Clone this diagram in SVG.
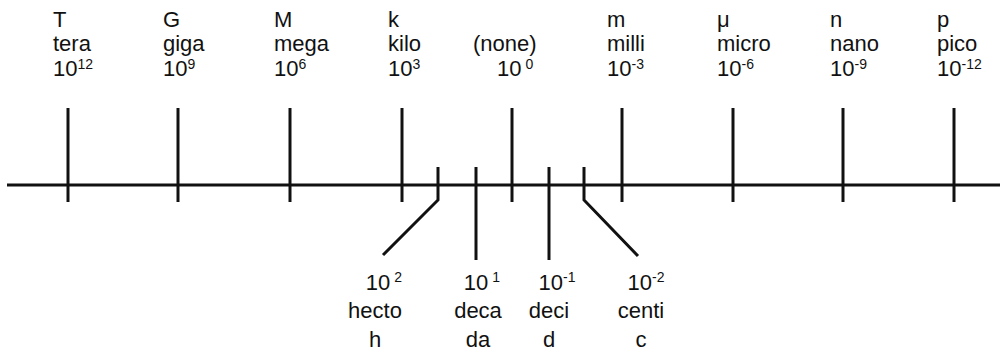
<svg xmlns="http://www.w3.org/2000/svg" width="1000" height="358" viewBox="0 0 1000 358">
<style>
text{font-family:"Liberation Sans",Arial,sans-serif;font-size:22px;fill:#111}
.s{font-size:14px}
line,polyline{stroke:#111;stroke-width:3;fill:none}
.c text{text-anchor:middle}
</style>
<rect width="1000" height="358" fill="#fff"/>
<g id="connectors">
<line x1="7" y1="185" x2="1000" y2="185"/>
<line x1="68" y1="108" x2="68" y2="202"/>
<line x1="178" y1="108" x2="178" y2="202"/>
<line x1="290" y1="108" x2="290" y2="202"/>
<line x1="402" y1="108" x2="402" y2="202"/>
<line x1="512" y1="108" x2="512" y2="202"/>
<line x1="622" y1="108" x2="622" y2="202"/>
<line x1="733" y1="108" x2="733" y2="202"/>
<line x1="843" y1="108" x2="843" y2="202"/>
<line x1="954" y1="108" x2="954" y2="202"/>
<polyline points="438,167 438,200 383,255"/>
<line x1="476" y1="167" x2="476" y2="260"/>
<line x1="549" y1="167" x2="549" y2="260"/>
<polyline points="584,167 584,200 638,256"/>
</g>
<g id="tera"><text x="53" y="27">T</text><text x="53" y="51">tera</text><text x="53" y="76">10<tspan class="s" dy="-7">12</tspan></text></g>
<g id="giga"><text x="163" y="27">G</text><text x="163" y="51">giga</text><text x="163" y="76">10<tspan class="s" dy="-7">9</tspan></text></g>
<g id="mega"><text x="274" y="27">M</text><text x="274" y="51">mega</text><text x="274" y="76">10<tspan class="s" dy="-7">6</tspan></text></g>
<g id="kilo"><text x="388" y="27">k</text><text x="388" y="51">kilo</text><text x="388" y="76">10<tspan class="s" dy="-7">3</tspan></text></g>
<g id="none"><text x="473" y="51">(none)</text><text x="497" y="76">10<tspan class="s" dx="4" dy="-7">0</tspan></text></g>
<g id="milli"><text x="607" y="27">m</text><text x="607" y="51">milli</text><text x="607" y="76">10<tspan class="s" dy="-7">-3</tspan></text></g>
<g id="micro"><text x="717" y="27">μ</text><text x="717" y="51">micro</text><text x="717" y="76">10<tspan class="s" dy="-7">-6</tspan></text></g>
<g id="nano"><text x="830" y="27">n</text><text x="830" y="51">nano</text><text x="830" y="76">10<tspan class="s" dy="-7">-9</tspan></text></g>
<g id="pico"><text x="937" y="27">p</text><text x="937" y="51">pico</text><text x="937" y="76">10<tspan class="s" dy="-7">-12</tspan></text></g>
<g id="hecto" class="c"><text x="384" y="290">10<tspan class="s" dx="4" dy="-8">2</tspan></text><text x="375" y="318">hecto</text><text x="375" y="347">h</text></g>
<g id="deca" class="c"><text x="482" y="290">10<tspan class="s" dx="4" dy="-8">1</tspan></text><text x="478" y="318">deca</text><text x="478" y="347">da</text></g>
<g id="deci" class="c"><text x="557" y="290">10<tspan class="s" dy="-8">-1</tspan></text><text x="549" y="318">deci</text><text x="549" y="347">d</text></g>
<g id="centi" class="c"><text x="646" y="290">10<tspan class="s" dy="-8">-2</tspan></text><text x="641" y="318">centi</text><text x="641" y="347">c</text></g>
</svg>
